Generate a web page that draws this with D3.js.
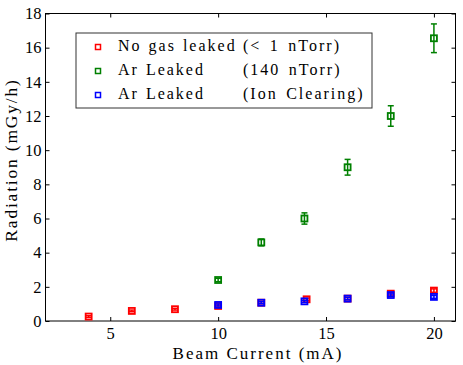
<!DOCTYPE html>
<html>
<head>
<meta charset="utf-8">
<script src="https://cdn.jsdelivr.net/npm/d3@7"></script>
<style>
  body { margin: 0; background: #fff; }
</style>
</head>
<body>
<script>
// data
var noGasX = [4, 6, 8, 10, 12, 14.1, 16, 18, 20];
var noGasY = [0.26, 0.59, 0.69, 0.88, 1.07, 1.27, 1.31, 1.6, 1.78];
var noGasErr = [0.05, 0.05, 0.05, 0.06, 0.06, 0.07, 0.07, 0.08, 0.1];

var arX = [10, 12, 14, 16, 18, 20];
var arY = [2.4, 4.6, 6.0, 9.0, 12.0, 16.55];
var arErr = [0.1, 0.2, 0.33, 0.46, 0.6, 0.84];

var ionX = [10, 12, 14, 16, 18, 20];
var ionY = [0.94, 1.07, 1.15, 1.31, 1.52, 1.41];
var ionErr = [0.06, 0.06, 0.06, 0.07, 0.07, 0.08];

var xTicks = [5, 10, 15, 20];
var yTicks = [0, 2, 4, 6, 8, 10, 12, 14, 16, 18];

var seriesNames = ["No gas leaked", "Ar Leaked", "Ar Leaked"];
var seriesNotes = ["(< 1 nTorr)", "(140 nTorr)", "(Ion Clearing)"];
var seriesColors = ["#ff0000", "#008000", "#0000ff"];

var FONT = "'Liberation Serif', 'Times New Roman', serif";

var drawChart = function()
{
  var width = 463, height = 365;
  var pLeft = 45.5, pRight = 455.5, pTop = 13.5, pBottom = 321;

  var svg = d3.select("body").append("svg")
    .attr("width", width)
    .attr("height", height)
    .attr("font-family", FONT);

  var x = d3.scaleLinear().domain([2, 21]).range([pLeft, pRight]);
  var y = d3.scaleLinear().domain([0, 18]).range([pBottom, pTop]);

  // axes with inward ticks on all four sides
  svg.append("g")
    .attr("transform", "translate(0," + pBottom + ")")
    .call(d3.axisBottom(x).tickValues(xTicks).tickSize(-4).tickPadding(6).tickFormat(d3.format("d")))
    .call(function(g) {
      g.select(".domain").remove();
      g.attr("font-family", FONT);
      g.selectAll("text").attr("font-size", 16.5).attr("fill", "#000");
    });
  svg.append("g")
    .attr("transform", "translate(0," + pTop + ")")
    .call(d3.axisTop(x).tickValues(xTicks).tickSize(-4).tickFormat(""))
    .call(function(g) { g.select(".domain").remove(); });
  svg.append("g")
    .attr("transform", "translate(" + pLeft + ",0)")
    .call(d3.axisLeft(y).tickValues(yTicks).tickSize(-4).tickPadding(4).tickFormat(d3.format("d")))
    .call(function(g) {
      g.select(".domain").remove();
      g.attr("font-family", FONT);
      g.selectAll("text").attr("font-size", 16.5).attr("fill", "#000");
    });
  svg.append("g")
    .attr("transform", "translate(" + pRight + ",0)")
    .call(d3.axisRight(y).tickValues(yTicks).tickSize(-4).tickFormat(""))
    .call(function(g) { g.select(".domain").remove(); });

  svg.append("rect")
    .attr("x", pLeft).attr("y", pTop)
    .attr("width", pRight - pLeft).attr("height", pBottom - pTop)
    .attr("fill", "none").attr("stroke", "#000").attr("stroke-width", 1);

  // axis labels
  svg.append("text")
    .attr("x", 258).attr("y", 358.5)
    .attr("text-anchor", "middle").attr("font-size", 17)
    .attr("letter-spacing", 2)
    .text("Beam Current (mA)");
  svg.append("text")
    .attr("transform", "translate(17,160) rotate(-90)")
    .attr("text-anchor", "middle").attr("font-size", 17.5)
    .attr("letter-spacing", 1.8)
    .text("Radiation (mGy/h)");

  var series = [
    { xs: noGasX, ys: noGasY, es: noGasErr },
    { xs: arX, ys: arY, es: arErr },
    { xs: ionX, ys: ionY, es: ionErr }
  ];

  series.forEach(function(s, k) {
    var pts = s.xs.map(function(d, i) { return { x: d, y: s.ys[i], e: s.es[i] }; });
    var g = svg.append("g");
    var col = seriesColors[k];

    g.selectAll(".err").data(pts).enter().append("line")
      .attr("x1", function(d) { return x(d.x); })
      .attr("x2", function(d) { return x(d.x); })
      .attr("y1", function(d) { return y(d.y - d.e); })
      .attr("y2", function(d) { return y(d.y + d.e); })
      .attr("stroke", col).attr("stroke-width", 1.5);
    g.selectAll(".capTop").data(pts).enter().append("line")
      .attr("x1", function(d) { return x(d.x) - 3; })
      .attr("x2", function(d) { return x(d.x) + 3; })
      .attr("y1", function(d) { return y(d.y + d.e); })
      .attr("y2", function(d) { return y(d.y + d.e); })
      .attr("stroke", col).attr("stroke-width", 1.5);
    g.selectAll(".capBot").data(pts).enter().append("line")
      .attr("x1", function(d) { return x(d.x) - 3; })
      .attr("x2", function(d) { return x(d.x) + 3; })
      .attr("y1", function(d) { return y(d.y - d.e); })
      .attr("y2", function(d) { return y(d.y - d.e); })
      .attr("stroke", col).attr("stroke-width", 1.5);
    g.selectAll("rect").data(pts).enter().append("rect")
      .attr("x", function(d) { return x(d.x) - 3; })
      .attr("y", function(d) { return y(d.y) - 3; })
      .attr("width", 6).attr("height", 6)
      .attr("fill", "none")
      .attr("stroke", col).attr("stroke-width", 1.8);
  });

  // legend
  var legend = svg.append("g");
  legend.append("rect")
    .attr("x", 76).attr("y", 33)
    .attr("width", 296).attr("height", 75)
    .attr("fill", "#fff").attr("stroke", "#333").attr("stroke-width", 1);

  var rowY = [47, 71, 95];
  seriesNames.forEach(function(name, i) {
    legend.append("rect")
      .attr("x", 95.5).attr("y", rowY[i] - 2.5)
      .attr("width", 5).attr("height", 5)
      .attr("fill", "none").attr("stroke", seriesColors[i]).attr("stroke-width", 1.5);
    legend.append("text")
      .attr("x", 118).attr("y", rowY[i] + 3.5)
      .attr("font-size", 16).attr("letter-spacing", 2).attr("word-spacing", 1)
      .text(name);
    legend.append("text")
      .attr("x", 243).attr("y", rowY[i] + 3.5)
      .attr("font-size", 16).attr("letter-spacing", 2).attr("word-spacing", 2.5)
      .text(seriesNotes[i]);
  });
}

drawChart();
</script>
</body>
</html>
